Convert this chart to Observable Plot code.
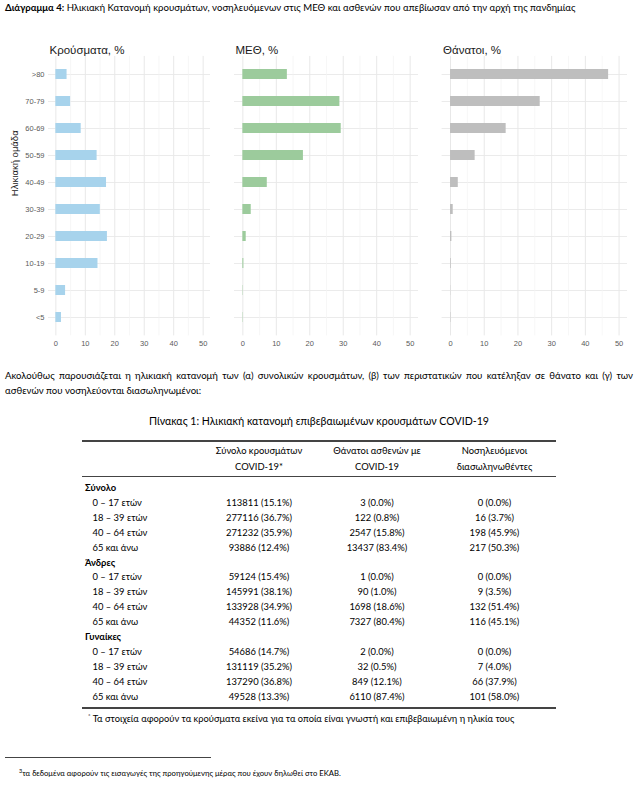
<!DOCTYPE html>
<html><head><meta charset="utf-8">
<script src="https://cdn.jsdelivr.net/npm/d3@7"></script>
<script src="https://cdn.jsdelivr.net/npm/@observablehq/plot@0.6"></script>
<style>
body{margin:0;background:#fff;}
#page{position:relative;width:641px;height:787px;overflow:hidden;font-family:Lato, "Open Sans", sans-serif;color:#000;background:#fff;}
.abs{position:absolute;white-space:nowrap;}
.rule{position:absolute;background:#444;}
</style></head><body><div id="page"></div>
<script>
// ---- chart data (percentages) ----
const ages = [">80", "70-79", "60-69", "50-59", "40-49", "30-39", "20-29", "10-19", "5-9", "<5"];
const casesPct = [3.8, 5.0, 8.6, 14.0, 17.2, 15.1, 17.5, 14.3, 3.3, 1.9];
const icuPct = [13.3, 29.0, 29.4, 18.1, 7.3, 2.5, 1.0, 0.3, 0.1, 0.1];
const deathsPct = [46.9, 26.6, 16.5, 7.3, 2.3, 0.8, 0.4, 0.2, 0.05, 0.1];
const panelTitles = ["Κρούσματα, %", "ΜΕΘ, %", "Θάνατοι, %"];
const panelColors = ["#a7d3ec", "#9ccb9c", "#bebebe"];
const xMajorTicks = [0, 10, 20, 30, 40, 50];
const xMinorTicks = [5, 15, 25, 35, 45];

// ---- table data ----
const groupNames = ["Σύνολο", "Άνδρες", "Γυναίκες"];
const rowLabels = ["0 – 17 ετών", "18 – 39 ετών", "40 – 64 ετών", "65 και άνω"];
const colHeaders = [["Σύνολο κρουσμάτων", "COVID-19*"], ["Θάνατοι ασθενών με", "COVID-19"], ["Νοσηλευόμενοι", "διασωληνωθέντες"]];
const totalCases = [113811, 277116, 271232, 93886];
const totalCasesPct = [15.1, 36.7, 35.9, 12.4];
const totalDeaths = [3, 122, 2547, 13437];
const totalDeathsPct = [0.0, 0.8, 15.8, 83.4];
const totalIntub = [0, 16, 198, 217];
const totalIntubPct = [0.0, 3.7, 45.9, 50.3];
const menCases = [59124, 145991, 133928, 44352];
const menCasesPct = [15.4, 38.1, 34.9, 11.6];
const menDeaths = [1, 90, 1698, 7327];
const menDeathsPct = [0.0, 1.0, 18.6, 80.4];
const menIntub = [0, 9, 132, 116];
const menIntubPct = [0.0, 3.5, 51.4, 45.1];
const womenCases = [54686, 131119, 137290, 49528];
const womenCasesPct = [14.7, 35.2, 36.8, 13.3];
const womenDeaths = [2, 32, 849, 6110];
const womenDeathsPct = [0.0, 0.5, 12.1, 87.4];
const womenIntub = [0, 7, 66, 101];
const womenIntubPct = [0.0, 4.0, 37.9, 58.0];

const page = document.getElementById("page");
function addDiv(html, css) {
  const d = document.createElement("div");
  d.className = "abs";
  d.innerHTML = html;
  Object.assign(d.style, css);
  page.appendChild(d);
  return d;
}
function addRule(left, top, width, h) {
  const d = document.createElement("div");
  d.className = "rule";
  Object.assign(d.style, {left: left + "px", top: top + "px", width: width + "px", height: h + "px"});
  page.appendChild(d);
}

// ---- title ----
addDiv("<b>Διάγραμμα 4:</b> Ηλικιακή Κατανομή κρουσμάτων, νοσηλευόμενων στις ΜΕΘ και ασθενών που απεβίωσαν από την αρχή της πανδημίας",
  {left: "5px", top: "2px", fontSize: "9.6px", lineHeight: "12px"});

// ---- chart panels ----
const values = [casesPct, icuPct, deathsPct];
const lefts = [0, 210, 420];
const margins = [[48, 1], [24, 3], [21.6, 4]];
values.forEach((vals, k) => {
  const data = ages.map((a, i) => ({age: a, value: vals[i]}));
  const marks = [
    Plot.gridY({stroke: "#ebebeb", strokeOpacity: 1, strokeWidth: 1}),
    Plot.gridX(xMinorTicks, {stroke: "#f3f3f3", strokeOpacity: 1, strokeWidth: 0.7}),
    Plot.gridX(xMajorTicks, {stroke: "#e8e8e8", strokeOpacity: 1, strokeWidth: 1}),
    Plot.barX(data, {x: "value", y: "age", fill: panelColors[k]}),
    Plot.axisX(xMajorTicks, {tickSize: 0, tickPadding: 4.5, fontSize: 7.5, color: "#5a5a5a", label: null}),
    Plot.text([panelTitles[k]], {text: d => d, frameAnchor: "top-left", dx: 1, dy: -11, textAnchor: "start", fontSize: 11.5, fill: "#1a1a1a"})
  ];
  if (k === 0) {
    marks.push(Plot.axisY({tickSize: 0, tickPadding: 4, fontSize: 7.5, color: "#5a5a5a", label: null}));
    marks.push(Plot.text(["Ηλικιακή ομάδα"], {text: d => d, frameAnchor: "left", dx: -33.5, rotate: -90, fontSize: 9.5, fill: "#1a1a1a"}));
  }
  const svg = Plot.plot({
    width: 211, height: 326,
    marginTop: 25.9, marginBottom: 20.6, marginLeft: margins[k][0], marginRight: margins[k][1],
    style: {fontFamily: "'Liberation Sans', Arial, sans-serif", background: "none", overflow: "visible"},
    x: {domain: [-2.5, 52.5]},
    y: {domain: ages, paddingInner: 0.62, paddingOuter: 0.41, axis: k === 0 ? undefined : null},
    marks
  });
  svg.style.position = "absolute";
  svg.style.left = lefts[k] + "px";
  svg.style.top = "30px";
  page.appendChild(svg);
});

// ---- paragraph ----
addDiv("Ακολούθως παρουσιάζεται η ηλικιακή κατανομή των (α) συνολικών κρουσμάτων, (β) των περιστατικών που κατέληξαν σε θάνατο και (γ) των",
  {left: "5px", top: "369px", width: "628px", fontSize: "9.6px", lineHeight: "14px", textAlign: "justify", textAlignLast: "justify", whiteSpace: "normal"});
addDiv("ασθενών που νοσηλεύονται διασωληνωμένοι:",
  {left: "5px", top: "384px", fontSize: "9.6px", lineHeight: "14px"});

// ---- table caption ----
addDiv("Πίνακας 1: Ηλικιακή κατανομή επιβεβαιωμένων κρουσμάτων COVID-19",
  {left: "5px", top: "413px", width: "628px", textAlign: "center", fontSize: "10.6px", lineHeight: "16px"});

// ---- table ----
const tLeft = 82, tRight = 556;
addRule(tLeft, 440.4, tRight - tLeft, 1.2);
addRule(tLeft, 476.4, tRight - tLeft, 0.8);
addRule(tLeft, 707.4, tRight - tLeft, 1.2);
const colCenters = [259, 377, 494.5];
colHeaders.forEach((h, j) => {
  addDiv(h[0] + "<br>" + h[1], {left: (colCenters[j] - 80) + "px", width: "160px", top: "442.8px", textAlign: "center", fontSize: "9.4px", lineHeight: "16.5px"});
});
const groupData = [
  [[totalCases, totalCasesPct], [totalDeaths, totalDeathsPct], [totalIntub, totalIntubPct]],
  [[menCases, menCasesPct], [menDeaths, menDeathsPct], [menIntub, menIntubPct]],
  [[womenCases, womenCasesPct], [womenDeaths, womenDeathsPct], [womenIntub, womenIntubPct]]
];
const rowStep = 14.9;
let rowCenter = 488;
groupNames.forEach((g, gi) => {
  addDiv("<b>" + g + "</b>", {left: "85px", top: (rowCenter - 7) + "px", fontSize: "9.4px", lineHeight: "14px"});
  rowCenter += rowStep;
  rowLabels.forEach((lab, ri) => {
    addDiv(lab, {left: "92.5px", top: (rowCenter - 7) + "px", fontSize: "9.4px", lineHeight: "14px"});
    groupData[gi].forEach((col, j) => {
      const txt = col[0][ri] + " (" + col[1][ri].toFixed(1) + "%)";
      addDiv(txt, {left: (colCenters[j] - 80) + "px", width: "160px", textAlign: "center", top: (rowCenter - 7) + "px", fontSize: "9.4px", lineHeight: "14px"});
    });
    rowCenter += rowStep;
  });
});
addDiv("<sup style='font-size:6px;vertical-align:4px'>*</sup> Τα στοιχεία αφορούν τα κρούσματα εκείνα για τα οποία είναι γνωστή και επιβεβαιωμένη η ηλικία τους",
  {left: "88px", top: "709px", fontSize: "9.3px", lineHeight: "14px"});

// ---- footnote ----
addRule(5, 756.5, 206, 0.8);
addDiv("<sup style='font-size:5.5px;vertical-align:3px'>3</sup>τα δεδομένα αφορούν τις εισαγωγές της προηγούμενης μέρας που έχουν δηλωθεί στο ΕΚΑΒ.",
  {left: "19px", top: "765px", fontSize: "7.7px", lineHeight: "12px"});
</script></body></html>
